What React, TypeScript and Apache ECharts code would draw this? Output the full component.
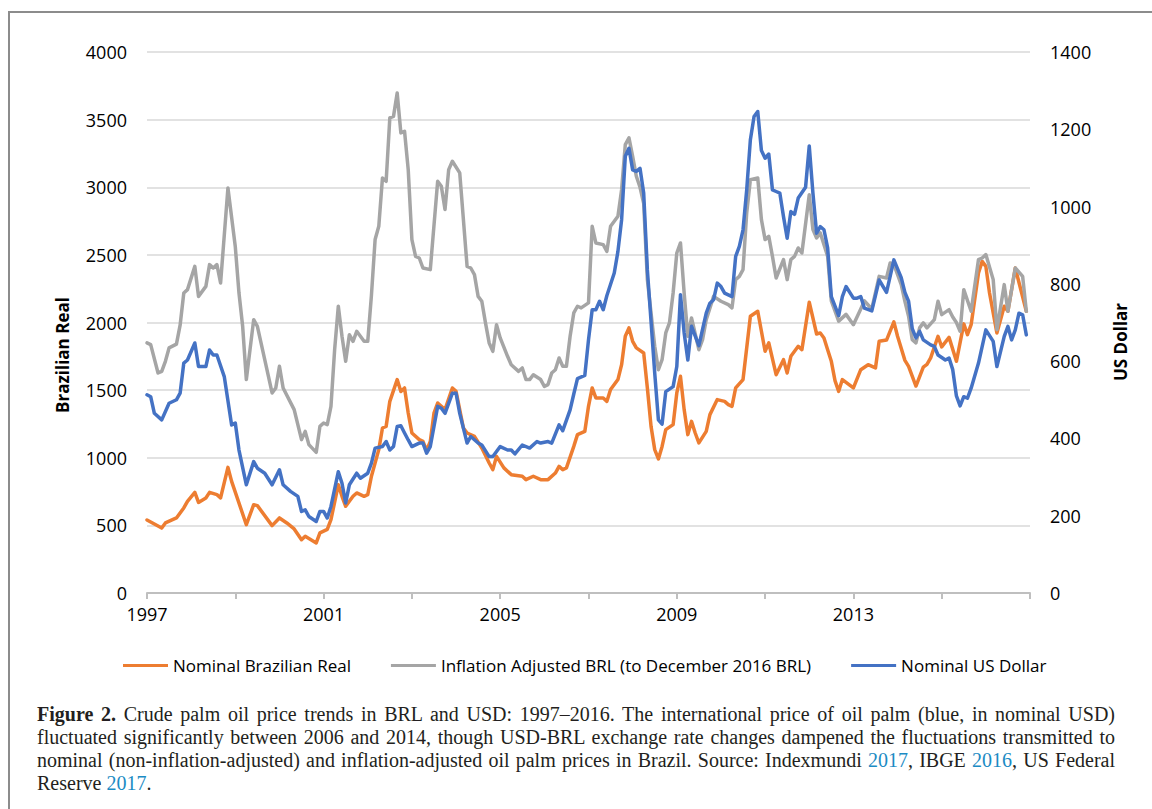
import React, { useEffect, useRef } from 'react';
import * as echarts from 'echarts';

// Monthly prices (month, value)
const nominalBRL: [string, number][] = [
  ['1997-01', 540], ['1997-05', 480], ['1997-06', 518], ['1997-09', 555], ['1997-11', 629], ['1997-12', 678],
  ['1998-02', 744], ['1998-03', 670], ['1998-05', 703], ['1998-06', 744], ['1998-08', 727], ['1998-09', 703],
  ['1998-11', 929], ['1998-12', 825], ['1999-04', 505], ['1999-06', 653], ['1999-07', 646], ['1999-11', 498],
  ['2000-01', 555], ['2000-03', 518], ['2000-05', 474], ['2000-07', 394], ['2000-08', 419], ['2000-11', 370],
  ['2000-12', 444], ['2001-02', 470], ['2001-03', 542], ['2001-05', 801], ['2001-06', 715], ['2001-07', 641],
  ['2001-09', 715], ['2001-10', 740], ['2001-12', 715], ['2002-01', 727], ['2002-02', 863], ['2002-04', 1060],
  ['2002-05', 1220], ['2002-06', 1232], ['2002-07', 1417], ['2002-09', 1578], ['2002-10', 1490], ['2002-11', 1516],
  ['2002-12', 1331], ['2003-01', 1183], ['2003-03', 1134], ['2003-04', 1121], ['2003-05', 1055], ['2003-06', 1120],
  ['2003-07', 1330], ['2003-08', 1405], ['2003-10', 1356], ['2003-12', 1516], ['2004-01', 1491], ['2004-03', 1220],
  ['2004-04', 1183], ['2004-06', 1158], ['2004-08', 1072], ['2004-10', 961], ['2004-11', 912], ['2004-12', 1010],
  ['2005-02', 925], ['2005-04', 875], ['2005-07', 863], ['2005-08', 838], ['2005-10', 863], ['2005-12', 838],
  ['2006-02', 838], ['2006-04', 887], ['2006-05', 936], ['2006-06', 912], ['2006-07', 925], ['2006-09', 1084],
  ['2006-10', 1171], ['2006-12', 1195], ['2007-01', 1380], ['2007-02', 1516], ['2007-03', 1442], ['2007-05', 1442],
  ['2007-06', 1417], ['2007-07', 1504], ['2007-09', 1578], ['2007-10', 1688], ['2007-11', 1898], ['2007-12', 1960],
  ['2008-01', 1861], ['2008-02', 1812], ['2008-04', 1775], ['2008-05', 1516], ['2008-06', 1232], ['2008-07', 1060],
  ['2008-08', 991], ['2008-09', 1084], ['2008-10', 1208], ['2008-12', 1245], ['2009-01', 1479], ['2009-02', 1602],
  ['2009-03', 1356], ['2009-04', 1171], ['2009-05', 1269], ['2009-06', 1183], ['2009-07', 1110], ['2009-09', 1195],
  ['2009-10', 1319], ['2009-12', 1430], ['2010-02', 1417], ['2010-03', 1393], ['2010-04', 1380], ['2010-05', 1516],
  ['2010-07', 1578], ['2010-09', 2046], ['2010-11', 2083], ['2011-01', 1787], ['2011-02', 1849], ['2011-04', 1614],
  ['2011-06', 1725], ['2011-07', 1627], ['2011-08', 1750], ['2011-10', 1824], ['2011-11', 1799], ['2012-01', 2150],
  ['2012-03', 1915], ['2012-04', 1923], ['2012-05', 1886], ['2012-06', 1799], ['2012-07', 1713], ['2012-08', 1570],
  ['2012-09', 1491], ['2012-10', 1578], ['2013-01', 1516], ['2013-03', 1651], ['2013-05', 1688], ['2013-07', 1664],
  ['2013-08', 1861], ['2013-10', 1870], ['2013-12', 2005], ['2014-01', 1898], ['2014-03', 1720], ['2014-04', 1676],
  ['2014-06', 1530], ['2014-08', 1670], ['2014-09', 1690], ['2014-10', 1738], ['2014-12', 1898], ['2015-01', 1820],
  ['2015-03', 1890], ['2015-05', 1713], ['2015-07', 1990], ['2015-08', 1910], ['2015-09', 1984], ['2015-11', 2366],
  ['2015-12', 2452], ['2016-01', 2415], ['2016-02', 2218], ['2016-04', 1923], ['2016-06', 2120], ['2016-07', 2083],
  ['2016-09', 2403], ['2016-12', 2083],
];

const inflationAdjustedBRL: [string, number][] = [
  ['1997-01', 1849], ['1997-02', 1836], ['1997-04', 1627], ['1997-05', 1639], ['1997-06', 1713], ['1997-07', 1812],
  ['1997-09', 1840], ['1997-10', 1980], ['1997-11', 2218], ['1997-12', 2243], ['1998-02', 2415], ['1998-03', 2193],
  ['1998-05', 2267], ['1998-06', 2428], ['1998-07', 2403], ['1998-08', 2428], ['1998-09', 2292], ['1998-11', 2995],
  ['1999-01', 2560], ['1999-02', 2218], ['1999-03', 1972], ['1999-04', 1578], ['1999-06', 2021], ['1999-07', 1972],
  ['1999-09', 1725], ['1999-11', 1479], ['1999-12', 1516], ['2000-01', 1676], ['2000-02', 1516], ['2000-05', 1356],
  ['2000-07', 1134], ['2000-08', 1195], ['2000-09', 1097], ['2000-11', 1040], ['2000-12', 1232], ['2001-01', 1257],
  ['2001-02', 1245], ['2001-03', 1380], ['2001-04', 1799], ['2001-05', 2120], ['2001-06', 1898], ['2001-07', 1713],
  ['2001-08', 1910], ['2001-09', 1861], ['2001-10', 1935], ['2001-12', 1861], ['2002-01', 1861], ['2002-02', 2200],
  ['2002-03', 2613], ['2002-04', 2711], ['2002-05', 3069], ['2002-06', 3044], ['2002-07', 3513], ['2002-08', 3524],
  ['2002-09', 3697], ['2002-10', 3402], ['2002-11', 3414], ['2002-12', 3130], ['2003-01', 2613], ['2003-02', 2489],
  ['2003-03', 2477], ['2003-04', 2403], ['2003-06', 2391], ['2003-08', 3044], ['2003-09', 3007], ['2003-10', 2835],
  ['2003-11', 3130], ['2003-12', 3192], ['2004-02', 3106], ['2004-04', 2415], ['2004-05', 2403], ['2004-06', 2354],
  ['2004-07', 2193], ['2004-08', 2157], ['2004-09', 1997], ['2004-10', 1849], ['2004-11', 1787], ['2004-12', 1984],
  ['2005-01', 1886], ['2005-03', 1750], ['2005-04', 1688], ['2005-06', 1639], ['2005-07', 1664], ['2005-08', 1578],
  ['2005-09', 1578], ['2005-10', 1614], ['2005-12', 1578], ['2006-01', 1528], ['2006-02', 1541], ['2006-03', 1627],
  ['2006-04', 1651], ['2006-05', 1738], ['2006-06', 1676], ['2006-07', 1676], ['2006-08', 1898], ['2006-09', 2071],
  ['2006-10', 2120], ['2006-11', 2108], ['2007-01', 2145], ['2007-02', 2711], ['2007-03', 2588], ['2007-05', 2576],
  ['2007-06', 2526], ['2007-07', 2711], ['2007-09', 2785], ['2007-10', 2982], ['2007-11', 3315], ['2007-12', 3365],
  ['2008-01', 3229], ['2008-02', 3081], ['2008-03', 3000], ['2008-04', 2880], ['2008-05', 2317], ['2008-07', 1824],
  ['2008-08', 1651], ['2008-09', 1725], ['2008-10', 1923], ['2008-11', 1997], ['2008-12', 2218], ['2009-01', 2514],
  ['2009-02', 2588], ['2009-03', 2218], ['2009-04', 1898], ['2009-05', 2034], ['2009-07', 1799], ['2009-08', 1873],
  ['2009-09', 2021], ['2009-11', 2193], ['2010-01', 2157], ['2010-03', 2132], ['2010-04', 2108], ['2010-05', 2317],
  ['2010-06', 2341], ['2010-07', 2391], ['2010-08', 2810], ['2010-09', 3056], ['2010-11', 3069], ['2010-12', 2761],
  ['2011-01', 2613], ['2011-02', 2637], ['2011-03', 2489], ['2011-04', 2329], ['2011-06', 2465], ['2011-07', 2317],
  ['2011-08', 2465], ['2011-09', 2489], ['2011-10', 2551], ['2011-11', 2514], ['2012-01', 2945], ['2012-02', 2687],
  ['2012-03', 2625], ['2012-04', 2662], ['2012-06', 2489], ['2012-07', 2160], ['2012-09', 2010], ['2012-11', 2060],
  ['2013-01', 1984], ['2013-03', 2100], ['2013-04', 2160], ['2013-06', 2100], ['2013-08', 2341], ['2013-10', 2329],
  ['2013-11', 2440], ['2013-12', 2430], ['2014-02', 2280], ['2014-03', 2157], ['2014-04', 2046], ['2014-05', 1873],
  ['2014-06', 1849], ['2014-07', 1960], ['2014-08', 1997], ['2014-09', 1960], ['2014-11', 2021], ['2014-12', 2157],
  ['2015-01', 2058], ['2015-03', 2095], ['2015-04', 2040], ['2015-05', 2000], ['2015-06', 1935], ['2015-07', 2243],
  ['2015-09', 2083], ['2015-11', 2465], ['2015-12', 2477], ['2016-01', 2502], ['2016-03', 2317], ['2016-04', 1947],
  ['2016-06', 2280], ['2016-07', 2083], ['2016-09', 2403], ['2016-11', 2341], ['2016-12', 2083],
];

const nominalUSD: [string, number][] = [
  ['1997-01', 513], ['1997-02', 508], ['1997-03', 465], ['1997-05', 448], ['1997-07', 491], ['1997-09', 500],
  ['1997-10', 517], ['1997-11', 595], ['1997-12', 603], ['1998-02', 647], ['1998-03', 586], ['1998-05', 586],
  ['1998-06', 629], ['1998-07', 616], ['1998-08', 616], ['1998-10', 560], ['1998-12', 435], ['1999-01', 440],
  ['1999-02', 370], ['1999-04', 280], ['1999-06', 340], ['1999-07', 323], ['1999-09', 310], ['1999-11', 280],
  ['2000-01', 319], ['2000-02', 280], ['2000-04', 263], ['2000-06', 250], ['2000-07', 211], ['2000-08', 215],
  ['2000-09', 198], ['2000-11', 185], ['2000-12', 211], ['2001-01', 211], ['2001-02', 194], ['2001-03', 224],
  ['2001-05', 314], ['2001-06', 284], ['2001-07', 233], ['2001-08', 280], ['2001-10', 310], ['2001-11', 297],
  ['2002-01', 310], ['2002-02', 336], ['2002-03', 375], ['2002-05', 379], ['2002-06', 392], ['2002-07', 370],
  ['2002-08', 379], ['2002-09', 431], ['2002-10', 433], ['2002-11', 414], ['2002-12', 396], ['2003-01', 379],
  ['2003-03', 388], ['2003-04', 388], ['2003-05', 362], ['2003-06', 379], ['2003-07', 431], ['2003-08', 483],
  ['2003-09', 478], ['2003-10', 465], ['2003-12', 517], ['2004-01', 517], ['2004-02', 465], ['2004-04', 388],
  ['2004-05', 405], ['2004-07', 388], ['2004-08', 383], ['2004-10', 353], ['2004-11', 353], ['2005-01', 379],
  ['2005-03', 370], ['2005-04', 370], ['2005-05', 360], ['2005-07', 383], ['2005-09', 375], ['2005-11', 392],
  ['2005-12', 388], ['2006-02', 392], ['2006-03', 388], ['2006-05', 435], ['2006-06', 420], ['2006-08', 474],
  ['2006-09', 515], ['2006-10', 555], ['2006-12', 563], ['2007-01', 655], ['2007-02', 733], ['2007-03', 733],
  ['2007-04', 755], ['2007-05', 733], ['2007-06', 770], ['2007-08', 828], ['2007-09', 884], ['2007-10', 966],
  ['2007-11', 1130], ['2007-12', 1151], ['2008-01', 1095], ['2008-02', 1091], ['2008-03', 1099], ['2008-04', 1035],
  ['2008-05', 836], ['2008-07', 569], ['2008-08', 448], ['2008-09', 437], ['2008-10', 521], ['2008-12', 534],
  ['2009-01', 586], ['2009-02', 772], ['2009-03', 673], ['2009-04', 603], ['2009-05', 690], ['2009-07', 640],
  ['2009-09', 724], ['2009-10', 750], ['2009-11', 759], ['2009-12', 802], ['2010-01', 793], ['2010-02', 776],
  ['2010-04', 767], ['2010-05', 871], ['2010-06', 897], ['2010-07', 940], ['2010-08', 1043], ['2010-09', 1173],
  ['2010-10', 1233], ['2010-11', 1246], ['2010-12', 1145], ['2011-01', 1125], ['2011-02', 1136], ['2011-03', 1043],
  ['2011-04', 1039], ['2011-05', 1035], ['2011-06', 974], ['2011-07', 918], ['2011-08', 987], ['2011-09', 980],
  ['2011-10', 1022], ['2011-12', 1050], ['2012-01', 1157], ['2012-02', 1035], ['2012-03', 931], ['2012-04', 948],
  ['2012-05', 940], ['2012-06', 893], ['2012-07', 767], ['2012-09', 718], ['2012-10', 767], ['2012-11', 793],
  ['2013-01', 763], ['2013-02', 763], ['2013-03', 767], ['2013-04', 737], ['2013-06', 730], ['2013-08', 810],
  ['2013-10', 778], ['2013-12', 862], ['2014-02', 816], ['2014-03', 778], ['2014-04', 755], ['2014-05', 684],
  ['2014-06', 660], ['2014-07', 677], ['2014-08', 655], ['2014-10', 642], ['2014-11', 638], ['2014-12', 616],
  ['2015-02', 603], ['2015-03', 608], ['2015-04', 578], ['2015-05', 510], ['2015-06', 484], ['2015-07', 508],
  ['2015-08', 504], ['2015-09', 530], ['2015-11', 595], ['2016-01', 681], ['2016-03', 651], ['2016-04', 586],
  ['2016-06', 664], ['2016-07', 690], ['2016-08', 655], ['2016-09', 681], ['2016-10', 724], ['2016-11', 720],
  ['2016-12', 668],
];

const seriesNames = [
  'Nominal Brazilian Real',
  'Inflation Adjusted BRL (to December 2016 BRL)',
  'Nominal US Dollar',
];
const firstYear = 1997;
const lastYear = 2017;
const brlAxis = { min: 0, max: 4000, interval: 500 };
const usdAxis = { min: 0, max: 1400, interval: 200 };
const yearLabelStep = 4;

const captionLines = [
  'Crude palm oil price trends in BRL and USD: 1997\u20132016. The international price of oil palm (blue, in nominal USD)',
  'fluctuated significantly between 2006 and 2014, though USD-BRL exchange rate changes dampened the fluctuations transmitted to',
];

const toX = (ym: string) => {
  const [y, m] = ym.split('-').map(Number);
  return y - firstYear + (m - 1) / 12;
};
const toSeries = (arr: [string, number][]) => arr.map(([d, v]) => [toX(d), v]);

const FONT = '"Open Sans", "DejaVu Sans", sans-serif';
const linkColor = '#1b8bc4';

export default function App() {
  const ref = useRef<HTMLDivElement>(null);

  useEffect(() => {
    if (!ref.current) return;
    const chart = echarts.init(ref.current, null, { renderer: 'svg' });
    const span = lastYear - firstYear;
    const xCommon = {
      type: 'value' as const,
      min: 0,
      max: span,
      interval: 2,
      splitLine: { show: false },
    };
    chart.setOption({
      animation: false,
      color: ['#ED7D31', '#A5A5A5', '#4472C4'],
      grid: { left: 147, right: 122, top: 52, bottom: 700 - 593 },
      xAxis: [
        {
          ...xCommon,
          axisLine: { show: true, lineStyle: { color: '#bfbfbf', width: 2 } },
          axisTick: { show: true, length: 6, lineStyle: { color: '#bfbfbf', width: 2 } },
          axisLabel: {
            margin: 12,
            color: '#000',
            fontFamily: FONT,
            fontSize: 18,
            formatter: (v: number) => {
              const k = Math.round(v);
              return k % yearLabelStep === 0 && k < span ? String(firstYear + k) : '';
            },
          },
        },
        {
          ...xCommon,
          axisLine: { show: false },
          axisTick: { show: true, inside: true, length: 6, lineStyle: { color: '#bfbfbf', width: 2 } },
          axisLabel: { show: false },
        },
      ],
      yAxis: [
        {
          type: 'value',
          ...brlAxis,
          axisLine: { show: false },
          axisTick: { show: false },
          splitLine: { lineStyle: { color: '#d9d9d9', width: 1.5 } },
          axisLabel: { margin: 20, color: '#000', fontFamily: FONT, fontSize: 18, formatter: (v: number) => String(v) },
        },
        {
          type: 'value',
          ...usdAxis,
          position: 'right',
          axisLine: { show: false },
          axisTick: { show: false },
          splitLine: { show: false },
          axisLabel: { margin: 20, color: '#000', fontFamily: FONT, fontSize: 18, formatter: (v: number) => String(v) },
        },
      ],
      legend: {
        data: seriesNames,
        left: 118,
        top: 652,
        icon: 'rect',
        itemWidth: 45,
        itemHeight: 3,
        itemGap: 40,
        textStyle: { color: '#000', fontFamily: FONT, fontSize: 17 },
      },
      graphic: [
        {
          type: 'text',
          x: 62,
          y: 355,
          rotation: Math.PI / 2,
          style: {
            text: 'Brazilian Real',
            fill: '#000',
            font: `bold 17px ${FONT}`,
            textAlign: 'center',
            textVerticalAlign: 'middle',
            align: 'center',
            verticalAlign: 'middle',
          },
        },
        {
          type: 'text',
          x: 1120,
          y: 342,
          rotation: Math.PI / 2,
          style: {
            text: 'US Dollar',
            fill: '#000',
            font: `bold 17px ${FONT}`,
            textAlign: 'center',
            textVerticalAlign: 'middle',
            align: 'center',
            verticalAlign: 'middle',
          },
        },
      ],
      series: [
        {
          name: seriesNames[0],
          type: 'line',
          yAxisIndex: 0,
          data: toSeries(nominalBRL),
          showSymbol: false,
          symbol: 'none',
          lineStyle: { width: 3.5, join: 'round', cap: 'round' },
        },
        {
          name: seriesNames[1],
          type: 'line',
          yAxisIndex: 0,
          data: toSeries(inflationAdjustedBRL),
          showSymbol: false,
          symbol: 'none',
          lineStyle: { width: 3.5, join: 'round', cap: 'round' },
        },
        {
          name: seriesNames[2],
          type: 'line',
          yAxisIndex: 1,
          data: toSeries(nominalUSD),
          showSymbol: false,
          symbol: 'none',
          lineStyle: { width: 3.5, join: 'round', cap: 'round' },
        },
      ],
    });
    return () => chart.dispose();
  }, []);

  const lineStyle: React.CSSProperties = {
    position: 'absolute',
    left: 37,
    width: 1078,
    textAlign: 'justify',
    textAlignLast: 'justify',
    whiteSpace: 'nowrap',
  };

  return (
    <div
      style={{
        position: 'fixed',
        left: 0,
        top: 0,
        width: 1152,
        height: 809,
        overflow: 'hidden',
        background: '#fff',
      }}
    >
      <div
        style={{
          position: 'absolute',
          left: 8,
          top: 11,
          width: 1300,
          height: 1000,
          borderLeft: '2px solid #8c8c8c',
          borderTop: '2px solid #8c8c8c',
        }}
      />
      <div ref={ref} style={{ position: 'absolute', left: 0, top: 0, width: 1152, height: 700 }} />
      <div
        style={{
          position: 'absolute',
          left: 0,
          top: 703,
          width: 1152,
          fontFamily: '"Liberation Serif", "Times New Roman", serif',
          fontSize: 20,
          lineHeight: '23px',
          color: '#231f20',
        }}
      >
        <div style={{ ...lineStyle, top: 0 }}>
          <b>Figure 2.</b> {captionLines[0]}
        </div>
        <div style={{ ...lineStyle, top: 23 }}>{captionLines[1]}</div>
        <div style={{ ...lineStyle, top: 46 }}>
          nominal (non-inflation-adjusted) and inflation-adjusted oil palm prices in Brazil. Source: Indexmundi{' '}
          <span style={{ color: linkColor }}>2017</span>, IBGE <span style={{ color: linkColor }}>2016</span>, US Federal
        </div>
        <div style={{ position: 'absolute', left: 37, top: 69, whiteSpace: 'nowrap' }}>
          Reserve <span style={{ color: linkColor }}>2017</span>.
        </div>
      </div>
    </div>
  );
}
